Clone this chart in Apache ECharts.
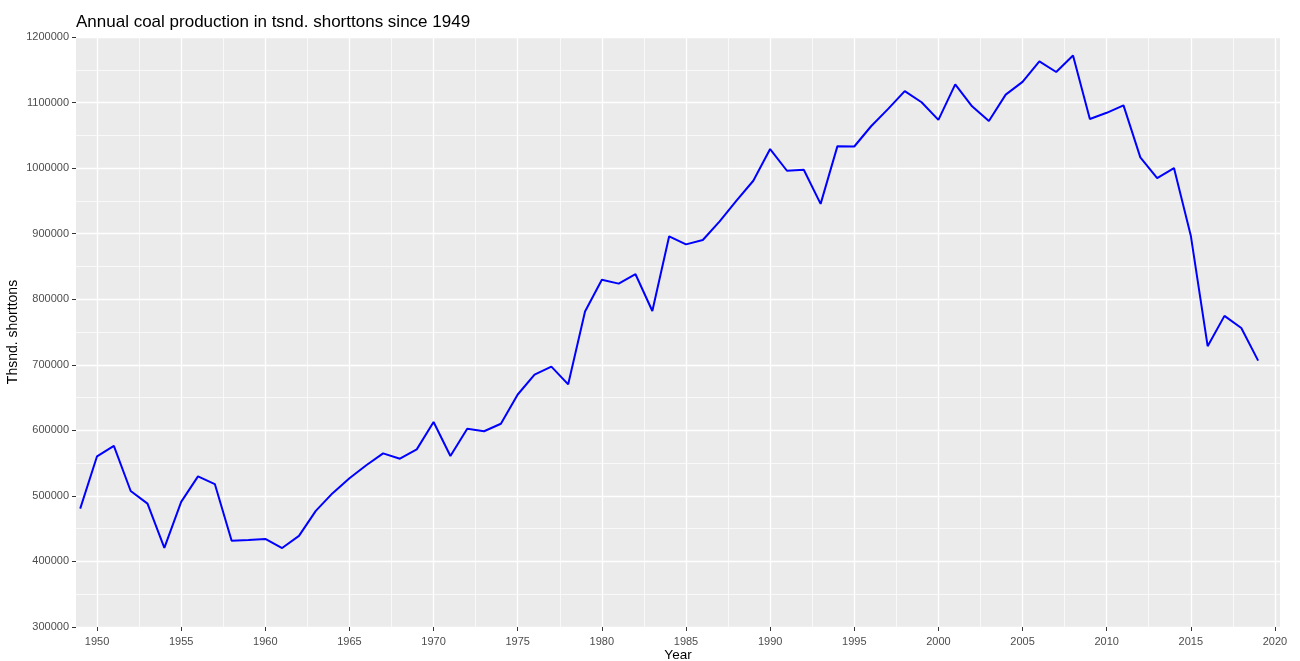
<!DOCTYPE html>
<html>
<head>
<meta charset="utf-8">
<script src="https://cdn.jsdelivr.net/npm/echarts@6/dist/echarts.min.js"></script>
<style>html,body{margin:0;padding:0;background:#fff}#c{width:1300px;height:661px}</style>
</head>
<body>
<div id="c"></div>
<script>
const years = [1949,1950,1951,1952,1953,1954,1955,1956,1957,1958,1959,1960,1961,1962,1963,1964,1965,1966,1967,1968,1969,1970,1971,1972,1973,1974,1975,1976,1977,1978,1979,1980,1981,1982,1983,1984,1985,1986,1987,1988,1989,1990,1991,1992,1993,1994,1995,1996,1997,1998,1999,2000,2001,2002,2003,2004,2005,2006,2007,2008,2009,2010,2011,2012,2013,2014,2015,2016,2017,2018,2019];
const production = [480570,560388,576335,507424,488239,420789,490838,529774,518042,431614,432677,434329,420423,439043,477195,504182,526954,546822,564882,556706,570978,612661,560919,602492,598568,610023,654641,684913,697205,670164,781134,829700,823775,838112,782091,895921,883638,890315,918762,950265,980729,1029076,995984,997545,945424,1033504,1032974,1063856,1089932,1117535,1100431,1073612,1127689,1094283,1071753,1112099,1131498,1162750,1146635,1171809,1074923,1084368,1095628,1016458,984842,1000049,896941,728364,774609,756167,706309];
const xTicks = [1950,1955,1960,1965,1970,1975,1980,1985,1990,1995,2000,2005,2010,2015,2020];
const xMinor = [1952.5,1957.5,1962.5,1967.5,1972.5,1977.5,1982.5,1987.5,1992.5,1997.5,2002.5,2007.5,2012.5,2017.5];
const titleText = 'Annual coal production in tsnd. shorttons since 1949';
const xName = 'Year';
const yName = 'Thsnd. shorttons';

const font = 'Liberation Sans, Arial, sans-serif';
const chart = echarts.init(document.getElementById('c'), null, {renderer: 'canvas'});
chart.setOption({
  animation: false,
  title: {
    text: titleText, left: 76, top: 14, padding: 0,
    textStyle: {fontFamily: font, fontSize: 17, fontWeight: 'normal', color: '#000'}
  },
  grid: {left: 76, right: 20, top: 37, bottom: 34, show: true, backgroundColor: '#EBEBEB', borderWidth: 0, containLabel: false, outerBoundsMode: 'none'},
  xAxis: [{
    type: 'value', min: 1948.75, max: 2020.3,
    name: xName, nameLocation: 'middle', nameGap: 21, nameMoveOverlap: false,
    nameTextStyle: {fontFamily: font, fontSize: 13.5, color: '#000'},
    axisLine: {show: false},
    axisTick: {show: true, length: 4, lineStyle: {color: '#333', width: 1}, customValues: xTicks},
    axisLabel: {customValues: xTicks, fontFamily: font, fontSize: 11, color: '#4D4D4D', margin: 9, formatter: v => String(v)},
    splitLine: {show: true, lineStyle: {color: '#fff', width: 1.3}}
  }, {
    type: 'value', min: 1948.75, max: 2020.3, position: 'bottom',
    axisLine: {show: false},
    axisTick: {show: false, customValues: xMinor},
    axisLabel: {show: false, customValues: xMinor},
    splitLine: {show: true, lineStyle: {color: '#fff', width: 0.7}}
  }],
  yAxis: {
    type: 'value', min: 300000, max: 1200000, interval: 100000,
    name: yName, nameLocation: 'middle', nameGap: 56, nameMoveOverlap: false,
    nameTextStyle: {fontFamily: font, fontSize: 14, color: '#000'},
    axisLine: {show: false},
    axisTick: {show: true, length: 4, lineStyle: {color: '#333', width: 1}},
    axisLabel: {fontFamily: font, fontSize: 11, color: '#4D4D4D', margin: 7, formatter: v => String(v)},
    splitLine: {show: true, lineStyle: {color: '#fff', width: 1.3}},
    minorTick: {show: false, splitNumber: 2},
    minorSplitLine: {show: true, lineStyle: {color: '#fff', width: 0.7}}
  },
  series: [{
    type: 'line', xAxisIndex: 0,
    data: years.map((y, i) => [y, production[i]]),
    showSymbol: false, symbol: 'none',
    lineStyle: {color: '#0000FF', width: 2},
    z: 5
  }]
});
</script>
</body>
</html>
